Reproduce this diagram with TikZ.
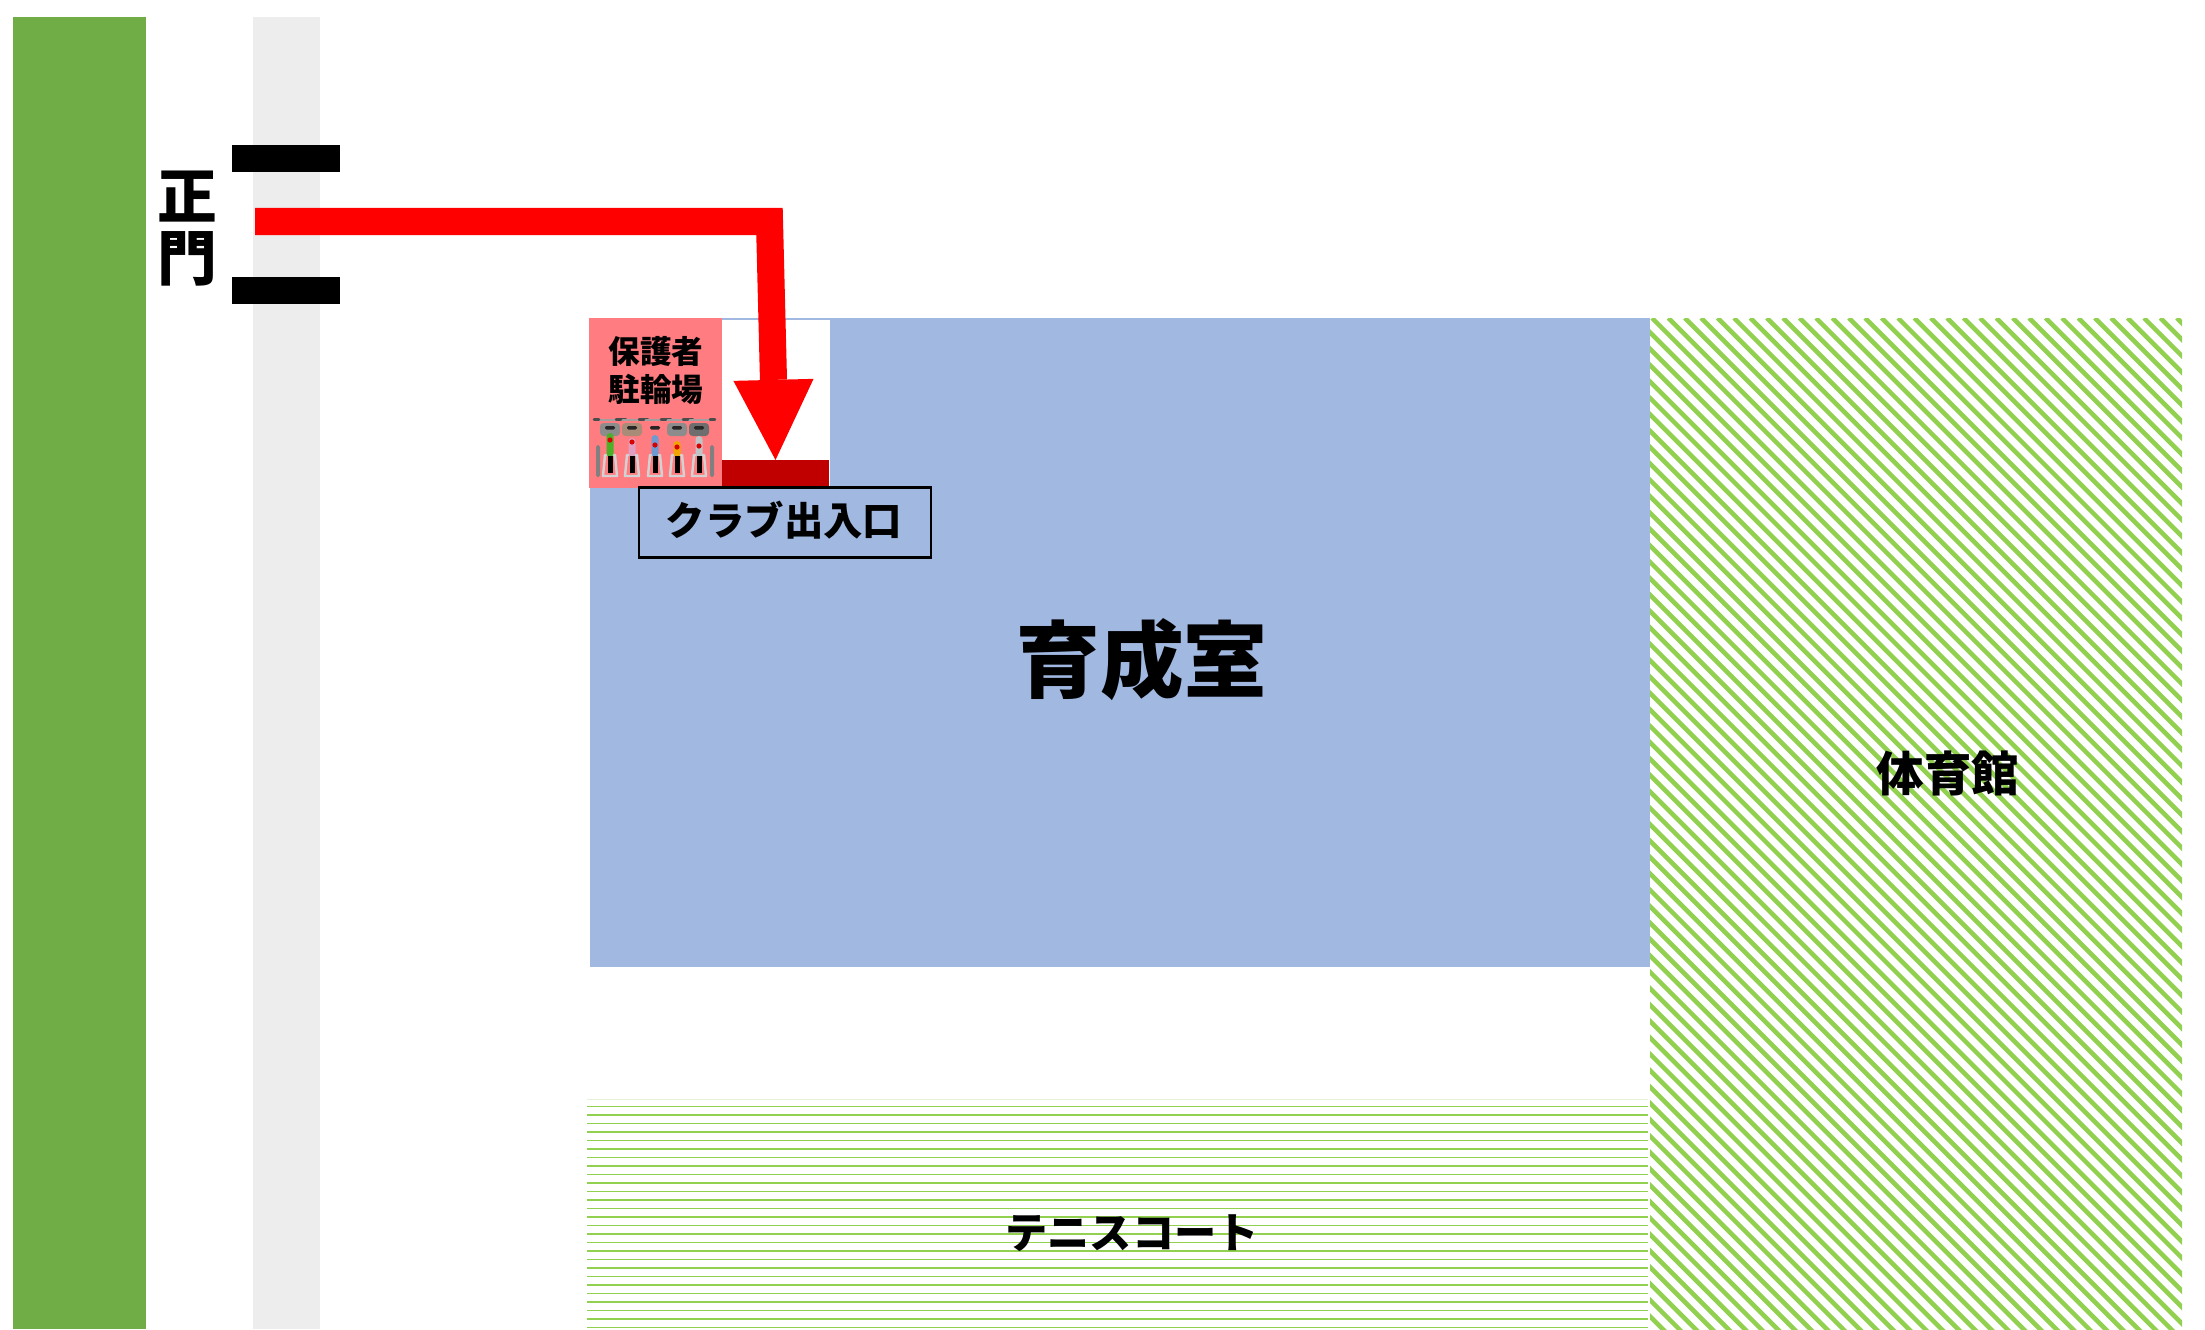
\documentclass[tikz,border=0pt]{standalone}
\usepackage{fontspec}
\setmainfont{Noto Sans CJK JP}
\usetikzlibrary{arrows.meta}
\definecolor{leaf}{HTML}{70AD47}
\definecolor{road}{HTML}{EDEDED}
\definecolor{room}{HTML}{A1B8E1}
\definecolor{park}{HTML}{FF7C80}
\definecolor{door}{HTML}{C00000}
\definecolor{stripe}{HTML}{92D050}
\definecolor{bikeA}{HTML}{4CAF28}
\definecolor{bikeB}{HTML}{E09FC0}
\definecolor{bikeC}{HTML}{6F9BD0}
\definecolor{bikeD}{HTML}{F0A500}
\definecolor{bikeE}{HTML}{C0C4C6}
\definecolor{baskA}{HTML}{8C8C8C}
\definecolor{baskB}{HTML}{A88C78}
\definecolor{baskE}{HTML}{6E6E6E}
\tikzset{
 zone/.style={inner sep=0pt,outer sep=0pt,draw=none},
 gatebar/.style={zone,fill=black,minimum width=1.08cm,minimum height=0.27cm},
 lbl/.style={inner sep=0pt,align=center,font=\bfseries},
 route/.style={draw=red,line width=7.7pt,line join=miter},
 bikepart/.style={line cap=round,line join=round}
}
\begin{document}
\begin{tikzpicture}[x=0.01cm,y=-0.01cm]
\useasboundingbox (0,0) rectangle (2205,1329);
\fill[white] (0,0) rectangle (2205,1329);
% strips
\node[zone,fill=leaf,minimum width=1.33cm,minimum height=13.12cm] (green) at (79.5,673) {};
\node[zone,fill=road,minimum width=0.67cm,minimum height=13.12cm] (road) at (286.5,673) {};
\node[gatebar] (gateA) at (286,158) {};
\node[gatebar] (gateB) at (286,290) {};
% rooms
\node[zone,fill=room,minimum width=10.60cm,minimum height=6.49cm] (room) at (1120,642.5) {};
\node[zone,fill=white,minimum width=1.08cm,minimum height=1.69cm] (lobby) at (776,404.5) {};
\node[zone,fill=park,minimum width=1.33cm,minimum height=1.70cm] (parking) at (655.5,403) {};
\node[zone,fill=door,minimum width=1.07cm,minimum height=0.26cm] (door) at (775.5,473) {};
\node[draw=black,line width=0.8pt,inner sep=0pt,minimum width=2.92cm,minimum height=0.70cm,fill=room] (entry) at (785,522.5) {};
% gym hatch
\begin{scope}
\clip (1650,318) rectangle (2182,1329);
\foreach \k in {-64,...,34}{
  \draw[stripe,line width=1.3pt] ({1652+\k*16.4},318) -- ++(1100,1100);
}
\end{scope}
% tennis hatch
\draw[stripe!25,line width=0.5pt] (587,1099.5) -- (1648,1099.5);
\foreach \k in {0,...,26}{
  \pgfmathsetmacro{\lw}{mod(\k,2)==0 ? 0.45 : 0.75}
  \draw[stripe,line width=\lw pt] (587,{1106.5+\k*8.5}) -- (1648,{1106.5+\k*8.5});
}
% route
\coordinate (routeStart) at (255,221.5);
\coordinate (routeCorner) at (769.5,221.5);
\coordinate (routeEnd) at (775.5,460);
\draw[route,-{Triangle[length=22.8pt,width=22.8pt,line width=0pt,sep=0pt]}] (routeStart) -- (routeCorner) -- (routeEnd);
% bikes
\foreach \x/\c/\b/\t/\r in {610/bikeA/baskA/433/440,632/bikeB/baskB/438/442,655/bikeC/park/435/445,677/bikeD/baskA/441/447,699/bikeE/baskE/436/446}{
  \begin{scope}[shift={(\x,0)}]
    \draw[bikepart,gray!75,line width=0.55pt] (-14,420) -- (14,420);
    \draw[bikepart,black!70,line width=0.7pt] (-16,419.5) -- (-11,419.5) (11,419.5) -- (16,419.5);
    \fill[\b,rounded corners=1pt] (-10,423) rectangle (10,436);
    \fill[black!85,rounded corners=0.4pt] (-5,426) rectangle (5,429.5);
    \draw[bikepart,gray!35,line width=0.7pt] (-7,476) -- (-5,455) -- (5,455) -- (7,476) -- cycle;
    \fill[\c,rounded corners=1pt] (-3.5,\t) rectangle (3.5,457);
    \fill[black] (-2.5,456) rectangle (2.5,473);
    \fill[red!85!black] (0,\r) circle (2.6);
  \end{scope}
}
\fill[gray,rounded corners=0.5pt] (596,445) rectangle (600,477);
\fill[gray,rounded corners=0.5pt] (710,445) rectangle (714,477);
% labels
\node[lbl,font=\fontsize{23.8pt}{23.8pt}\selectfont\bfseries] (lblRoom) at (1142,660) {育成室};
\node[lbl,font=\fontsize{13.5pt}{13.5pt}\selectfont\bfseries] (lblGym) at (1948,773) {体育館};
\node[lbl,font=\fontsize{12pt}{12pt}\selectfont\bfseries] (lblTennis) at (1132,1233) {テニスコート};
\node[lbl,font=\fontsize{11.2pt}{11.2pt}\selectfont\bfseries] (lblEntry) at (784,520) {クラブ出入口};
\node[lbl,font=\fontsize{9pt}{9pt}\selectfont\bfseries] (lblP1) at (656,351) {保護者};
\node[lbl,font=\fontsize{9pt}{9pt}\selectfont\bfseries] (lblP2) at (656,389) {駐輪場};
\node[lbl,font=\fontsize{17pt}{17pt}\selectfont\bfseries] (lblG1) at (187,197) {正};
\node[lbl,font=\fontsize{17pt}{17pt}\selectfont\bfseries] (lblG2) at (187,259) {門};
\end{tikzpicture}
\end{document}
